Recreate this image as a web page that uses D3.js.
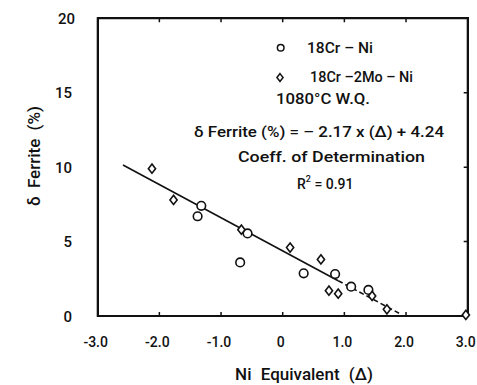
<!DOCTYPE html>
<html>
<head>
<meta charset="utf-8">
<script src="https://cdn.jsdelivr.net/npm/d3@7/dist/d3.min.js"></script>
<style>
  html, body { margin: 0; padding: 0; background: #fff; }
  #chart { position: relative; width: 477px; height: 385px; }
  #chart svg { position: absolute; left: 0; top: 0; }
  #frame { position: absolute; box-sizing: border-box; border: 2px solid #111; }
  svg text { font-family: Roboto, "DejaVu Sans", sans-serif; font-weight: 500; fill: #111; }
</style>
</head>
<body>
<div id="chart"><div id="frame"></div></div>
<script>
// 18Cr-Ni (circles)
const niX = [-1.32, -1.38, -0.57, -0.69, 0.34, 0.85, 1.11, 1.39];
const niY = [7.4, 6.7, 5.55, 3.6, 2.87, 2.82, 1.97, 1.75];
// 18Cr-2Mo-Ni (diamonds)
const moX = [-2.12, -1.77, -0.67, 0.12, 0.62, 0.75, 0.90, 1.45, 1.69, 2.97];
const moY = [9.9, 7.8, 5.8, 4.6, 3.8, 1.7, 1.5, 1.35, 0.45, 0.07];
// regression line as drawn: solid part then dashed part
const fitX = [-2.59, 0.9, 1.89];
const fitY = [10.14, 2.37, 0.18];

const xTicks = [-3, -2, -1, 0, 1, 2, 3];
const xTickLabels = ['-3.0', '-2.0', '-1.0', '0', '1.0', '2.0', '3.0'];
const yTicks = [0, 5, 10, 15, 20];

const W = 477, H = 385;
const M = {left: 97.7, right: 467.7, top: 18.3, bottom: 316};

const x = d3.scaleLinear().domain([-3, 3]).range([M.left, M.right]);
const y = d3.scaleLinear().domain([0, 20]).range([M.bottom, M.top]);

// html frame under the svg, placed from the scales
d3.select('#frame')
  .style('left', (x(-3) - 1) + 'px').style('top', (y(20) - 1) + 'px')
  .style('width', (x(3) - x(-3) + 2) + 'px').style('height', (y(0) - y(20) + 2) + 'px');

const svg = d3.select('#chart').append('svg')
  .attr('width', W).attr('height', H);

// frame path and inward ticks
const line = d3.line().x(d => x(d[0])).y(d => y(d[1]));
svg.append('path')
  .attr('d', line([[-3, 0], [-3, 20], [3, 20], [3, 0]]) + 'Z')
  .attr('fill', 'none').attr('stroke', '#111').attr('stroke-width', 2);
const inner = xTicks.slice(1, -1);
const tickPath = inner.map(d => `M${x(d)},${y(0)}v-4M${x(d)},${y(20)}v4`).join('')
  + [5, 10, 15].map(d => `M${x(3)},${y(d)}h-4`).join('');
svg.append('path').attr('d', tickPath)
  .attr('fill', 'none').attr('stroke', '#111').attr('stroke-width', 1.5);

// tick labels
svg.append('g').selectAll('text').data(xTicks).join('text')
  .attr('x', d => x(d) - 2).attr('y', 347)
  .attr('text-anchor', 'middle').attr('font-size', 14)
  .text((d, i) => xTickLabels[i]);
svg.append('g').selectAll('text').data(yTicks).join('text')
  .attr('x', d => d === 20 ? 75 : 72).attr('y', d => y(d) + 5.5)
  .attr('text-anchor', 'end').attr('font-size', 15)
  .text(d => d);

// axis titles
svg.append('text')
  .attr('x', 304).attr('y', 380).attr('text-anchor', 'middle')
  .attr('font-size', 17).attr('word-spacing', 5)
  .text('Ni Equivalent (Δ)');
svg.append('text')
  .attr('transform', 'translate(40,156) rotate(-90)')
  .attr('text-anchor', 'middle').attr('font-size', 17)
  .attr('word-spacing', 4)
  .text('δ Ferrite (%)');

// fitted line
svg.append('path')
  .attr('d', line([[fitX[0], fitY[0]], [fitX[1], fitY[1]]]))
  .attr('fill', 'none').attr('stroke', '#111').attr('stroke-width', 1.6);
svg.append('path')
  .attr('d', line([[fitX[1], fitY[1]], [fitX[2], fitY[2]]]))
  .attr('fill', 'none').attr('stroke', '#111').attr('stroke-width', 1.6)
  .attr('stroke-dasharray', '5,3');

// legend / annotations
const diamond = (cx, cy, s) => `M${cx},${cy - 4.6 * s}L${cx + 3.6 * s},${cy}L${cx},${cy + 4.6 * s}L${cx - 3.6 * s},${cy}Z`;
svg.append('circle').attr('cx', 280.7).attr('cy', 47.7).attr('r', 3.3)
  .attr('fill', '#fff').attr('stroke', '#111').attr('stroke-width', 1.5);
svg.append('path').attr('d', diamond(280, 77.5, 0.85))
  .attr('fill', '#fff').attr('stroke', '#111').attr('stroke-width', 1.5);

const note = (tx, ty, str, len, fs) => svg.append('text')
  .attr('x', tx).attr('y', ty).attr('font-size', fs)
  .attr('textLength', len).attr('lengthAdjust', 'spacingAndGlyphs')
  .text(str);
note(307, 52.5, '18Cr – Ni', 66, 14);
note(310, 82, '18Cr –2Mo – Ni', 103, 14);
note(276, 104, '1080°C  W.Q.', 94, 14);
note(194, 137, 'δ Ferrite (%) = – 2.17 x (Δ)  + 4.24', 250, 14);
note(238, 162, 'Coeff.  of  Determination', 187, 14);
const r2 = svg.append('text').attr('x', 297).attr('y', 189).attr('font-size', 14);
r2.append('tspan').text('R');
r2.append('tspan').attr('dy', -7).attr('font-size', 9).text('2');
r2.append('tspan').attr('dy', 7).text(' = 0.91');

// data markers
svg.append('g').selectAll('circle').data(niX).join('circle')
  .attr('cx', d => x(d)).attr('cy', (d, i) => y(niY[i])).attr('r', 4.3)
  .attr('fill', '#fff').attr('stroke', '#111').attr('stroke-width', 1.6);
svg.append('g').selectAll('path').data(moX).join('path')
  .attr('d', (d, i) => diamond(x(d), y(moY[i]), 1))
  .attr('fill', '#fff').attr('stroke', '#111').attr('stroke-width', 1.6);
</script>
</body>
</html>
